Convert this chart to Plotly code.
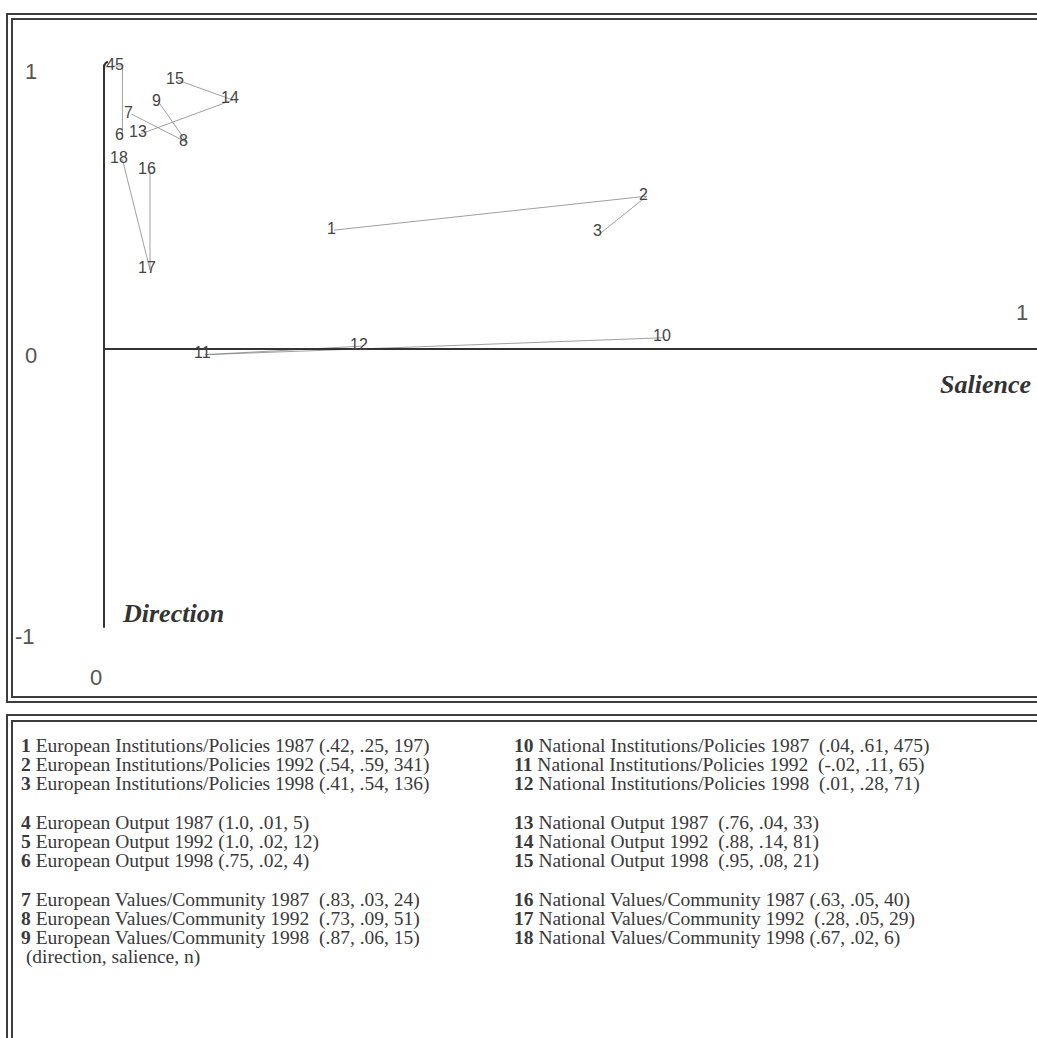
import plotly.graph_objects as go

# ---- data: (direction, salience, n) per coded item ----
item_ids = [str(i) for i in range(1, 19)]
item_names = [
    "European Institutions/Policies 1987",
    "European Institutions/Policies 1992",
    "European Institutions/Policies 1998",
    "European Output 1987",
    "European Output 1992",
    "European Output 1998",
    "European Values/Community 1987",
    "European Values/Community 1992",
    "European Values/Community 1998",
    "National Institutions/Policies 1987",
    "National Institutions/Policies 1992",
    "National Institutions/Policies 1998",
    "National Output 1987",
    "National Output 1992",
    "National Output 1998",
    "National Values/Community 1987",
    "National Values/Community 1992",
    "National Values/Community 1998",
]
direction = [0.42, 0.54, 0.41, 1.0, 1.0, 0.75, 0.83, 0.73, 0.87,
             0.04, -0.02, 0.01, 0.76, 0.88, 0.95, 0.63, 0.28, 0.67]
salience = [0.25, 0.59, 0.54, 0.01, 0.02, 0.02, 0.03, 0.09, 0.06,
            0.61, 0.11, 0.28, 0.04, 0.14, 0.08, 0.05, 0.05, 0.02]
counts = [197, 341, 136, 5, 12, 4, 24, 51, 15,
          475, 65, 71, 33, 81, 21, 40, 29, 6]
# each trajectory joins 1987 -> 1992 -> 1998 for one category
groups = [[0, 1, 2], [3, 4, 5], [6, 7, 8], [9, 10, 11], [12, 13, 14], [15, 16, 17]]
# spacing used before the bracket in each key line
key_gap = [" "] * 6 + ["  "] * 3 + ["  "] * 6 + [" ", "  ", " "]

W, H = 1037, 1038
# pixel geometry of the plotting frame
X0, XS = 104.0, 920.0   # x pixel of salience 0, pixels per unit salience
Y0, YS = 349.0, 283.0   # y pixel of direction 0, pixels per unit direction

x_range = [(0 - X0) / XS, (W - X0) / XS]
y_range = [(Y0 - H) / YS, Y0 / YS]


def px(x):
    return x / W


def py(y):
    return 1 - y / H


def fmt(v):
    if abs(v) >= 1:
        return f"{v:.1f}"
    s = f"{v:.2f}"
    return s.replace("0.", ".")


fig = go.Figure()

line_col = "rgba(120,120,120,0.7)"
for g in groups:
    fig.add_trace(go.Scatter(
        x=[salience[i] for i in g], y=[direction[i] for i in g],
        mode="lines", line=dict(color=line_col, width=1),
        hoverinfo="skip", showlegend=False))

# point numbers, nudged slightly left of each point
for k in range(18):
    fig.add_annotation(
        x=salience[k], y=direction[k], xref="x", yref="y", text=item_ids[k],
        showarrow=False, xanchor="center", yanchor="middle", xshift=-3, yshift=2,
        font=dict(family="Liberation Sans, Arial, sans-serif", size=16, color="#444"))

shapes = []
frame = dict(color="#3d3d3d", width=2)
# double frame around the chart
shapes.append(dict(type="rect", xref="paper", yref="paper",
                   x0=px(7), x1=px(W + 20), y0=py(702), y1=py(14), line=frame))
shapes.append(dict(type="rect", xref="paper", yref="paper",
                   x0=px(12), x1=px(W + 15), y0=py(697), y1=py(19), line=frame))
# double frame around the key
shapes.append(dict(type="rect", xref="paper", yref="paper",
                   x0=px(7), x1=px(W + 20), y0=py(H + 20), y1=py(715), line=frame))
shapes.append(dict(type="rect", xref="paper", yref="paper",
                   x0=px(12), x1=px(W + 15), y0=py(H + 15), y1=py(721), line=frame))
# axes through the origin
axis = dict(color="#333", width=2)
shapes.append(dict(type="line", xref="x", yref="y",
                   x0=0, x1=x_range[1], y0=0, y1=0, line=axis))
shapes.append(dict(type="line", xref="x", yref="y",
                   x0=0, x1=0, y0=-0.985, y1=1.005, line=axis))
# small hook at the top of the direction axis
shapes.append(dict(type="path", xref="paper", yref="paper",
                   path=f"M {px(104)} {py(70)} Q {px(104)} {py(62)} {px(108)} {py(62)}",
                   line=axis))

annotations = []
tick_font = dict(family="Liberation Sans, Arial, sans-serif", size=22, color="#555")
for txt, xx, yy in [("1", 31, 72), ("0", 31, 355), ("-1", 25, 636),
                    ("0", 96, 677), ("1", 1022, 312)]:
    annotations.append(dict(text=txt, xref="paper", yref="paper", x=px(xx), y=py(yy),
                            xanchor="center", yanchor="middle", showarrow=False,
                            font=tick_font))

title_font = dict(family="Liberation Serif, Times New Roman, serif", size=26, color="#333")
annotations.append(dict(text="<b><i>Salience</i></b>", xref="paper", yref="paper",
                        x=px(1033), y=py(384), xanchor="right", yanchor="middle",
                        showarrow=False, font=title_font))
annotations.append(dict(text="<b><i>Direction</i></b>", xref="paper", yref="paper",
                        x=px(120), y=py(613), xanchor="left", yanchor="middle",
                        showarrow=False, font=title_font))

# key: three blocks of three lines in each column
key_font = dict(family="Liberation Serif, Times New Roman, serif", size=19.5, color="#3a3a3a")
row_y = [746, 765, 784, 823, 842, 861, 900, 919, 938]
for k in range(18):
    col = k // 9
    r = k % 9
    gap = key_gap[k].replace(" ", "&nbsp;")
    txt = (f"<b>{item_ids[k]}</b> {item_names[k]}{gap}"
           f"({fmt(direction[k])}, {fmt(salience[k])}, {counts[k]})")
    annotations.append(dict(text=txt, xref="paper", yref="paper",
                            x=px(19 if col == 0 else 512), y=py(row_y[r]),
                            xanchor="left", yanchor="middle", showarrow=False,
                            font=key_font))
annotations.append(dict(text="&nbsp;(direction, salience, n)", xref="paper", yref="paper",
                        x=px(19), y=py(957), xanchor="left", yanchor="middle",
                        showarrow=False, font=key_font))

for a in annotations:
    fig.add_annotation(**a)

fig.update_layout(
    width=W, height=H, margin=dict(l=0, r=0, t=0, b=0),
    paper_bgcolor="white", plot_bgcolor="white",
    xaxis=dict(range=x_range, domain=[0, 1], visible=False, fixedrange=True),
    yaxis=dict(range=y_range, domain=[0, 1], visible=False, fixedrange=True),
    shapes=shapes, showlegend=False,
)

fig.write_html("out.html")
